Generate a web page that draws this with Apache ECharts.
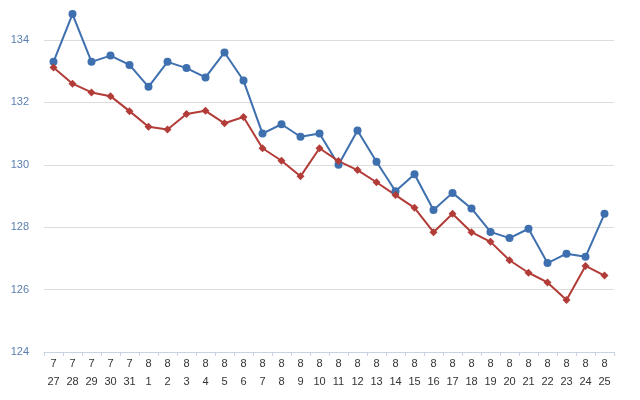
<!DOCTYPE html>
<html>
<head>
<meta charset="utf-8">
<script src="https://cdn.jsdelivr.net/npm/echarts@6/dist/echarts.min.js"></script>
<style>html,body{margin:0;padding:0;background:#fff;}#c{width:640px;height:400px;}</style>
</head>
<body>
<div id="c"></div>
<script>
var months = [7,7,7,7,7,8,8,8,8,8,8,8,8,8,8,8,8,8,8,8,8,8,8,8,8,8,8,8,8,8];
var days = [27,28,29,30,31,1,2,3,4,5,6,7,8,9,10,11,12,13,14,15,16,17,18,19,20,21,22,23,24,25];
var blueValues = [133.3,134.83,133.3,133.5,133.2,132.5,133.3,133.1,132.8,133.6,132.7,131.0,131.3,130.9,131.0,130.0,131.1,130.1,129.15,129.7,128.55,129.1,128.6,127.85,127.65,127.95,126.85,127.15,127.05,128.43];
var redValues = [133.12,132.6,132.32,132.2,131.72,131.22,131.13,131.63,131.73,131.33,131.53,130.53,130.13,129.63,130.53,130.12,129.83,129.44,129.03,128.62,127.84,128.43,127.84,127.53,126.94,126.54,126.23,125.67,126.76,126.45];
var categories = months.map(function(m,i){ return m + '\n' + days[i]; });

var chart = echarts.init(document.getElementById('c'));
chart.setOption({
  animation: false,
  backgroundColor: '#fff',
  grid: { left: 44, right: 26, top: 40, bottom: 48 },
  xAxis: {
    type: 'category',
    data: categories,
    boundaryGap: true,
    axisLine: { lineStyle: { color: '#c5d3e2', width: 1 } },
    axisTick: { show: true, length: 4, alignWithLabel: false, lineStyle: { color: '#c5d3e2' } },
    axisLabel: { interval: 0, color: '#333', fontFamily: 'Liberation Sans', fontSize: 11, lineHeight: 18, margin: 3 }
  },
  yAxis: {
    type: 'value',
    min: 124, max: 134, interval: 2,
    axisLine: { show: false },
    axisTick: { show: false },
    splitLine: { lineStyle: { color: '#dcdcdc', width: 1 } },
    axisLabel: { color: '#5a7fb0', fontFamily: 'Liberation Sans', fontSize: 11, margin: 15 }
  },
  series: [
    {
      type: 'line', data: blueValues, clip: false,
      symbol: 'circle', symbolSize: 8,
      lineStyle: { color: '#3e6fae', width: 2 },
      itemStyle: { color: '#3e6fae' }
    },
    {
      type: 'line', data: redValues, clip: false,
      symbol: 'diamond', symbolSize: 8,
      lineStyle: { color: '#b23c38', width: 2 },
      itemStyle: { color: '#b23c38' }
    }
  ]
});
</script>
</body>
</html>
